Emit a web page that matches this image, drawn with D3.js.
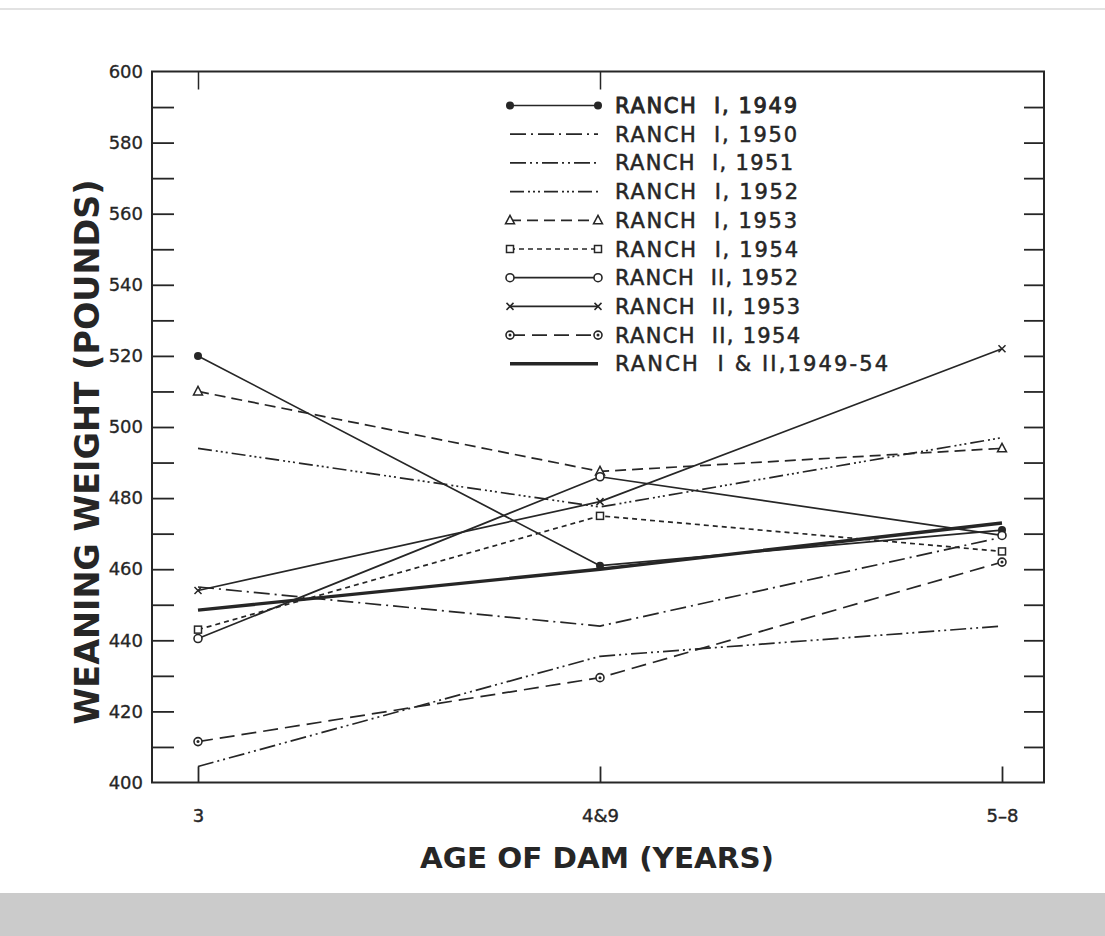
<!DOCTYPE html>
<html>
<head>
<meta charset="utf-8">
<script src="https://cdn.jsdelivr.net/npm/d3@7"></script>
<style>
  html, body { margin: 0; padding: 0; background: #ffffff; }
  svg { display: block; }
  text { fill: #262626; }
</style>
</head>
<body>
<svg id="chart" width="1105" height="936"></svg>
<script>
// ---------------- data ----------------
const ageGroups = ["3", "4&9", "5–8"];
const yTicks = [400, 410, 420, 430, 440, 450, 460, 470, 480, 490, 500, 510, 520, 530, 540, 550, 560, 570, 580, 590, 600];

const ranchI_1949 = [520, 461, 471];
const ranchI_1950 = [455, 444, 469];
const ranchI_1951 = [404.5, 435.5, 444];
const ranchI_1952 = [494, 477.5, 497];
const ranchI_1953 = [510, 487.5, 494];
const ranchI_1954 = [443, 475, 465];
const ranchII_1952 = [440.5, 486, 469.5];
const ranchII_1953 = [454, 479, 522];
const ranchII_1954 = [411.5, 429.5, 462];
const ranchI_II_1949_54 = [448.5, 460, 473];

const seriesLabels = [
  "RANCH  I, 1949", "RANCH  I, 1950", "RANCH  I, 1951", "RANCH  I, 1952",
  "RANCH  I, 1953", "RANCH  I, 1954", "RANCH  II, 1952", "RANCH  II, 1953",
  "RANCH  II, 1954", "RANCH  I & II,1949-54"
];
const labelWidths = [182, 182, 178, 183, 182, 183, 183, 185, 185, 273];

// ---------------- styles ----------------
const ink = "#262626";
const styles = [
  { values: ranchI_1949, dash: null, width: 1.7, marker: "dot" },
  { values: ranchI_1950, dash: "16,5,2,5", width: 1.7, marker: null },
  { values: ranchI_1951, dash: "16,4,2,4,2,4", width: 1.7, marker: null },
  { values: ranchI_1952, dash: "14,4,2,3,2,3,2,4", width: 1.7, marker: null },
  { values: ranchI_1953, dash: "11,6", width: 1.7, marker: "triangle" },
  { values: ranchI_1954, dash: "5,4", width: 1.7, marker: "square" },
  { values: ranchII_1952, dash: null, width: 1.7, marker: "circle" },
  { values: ranchII_1953, dash: null, width: 1.7, marker: "x" },
  { values: ranchII_1954, dash: "15,7", width: 1.7, marker: "circledot" },
  { values: ranchI_II_1949_54, dash: null, width: 3.4, marker: null }
];

const svg = d3.select("#chart");

// paper background: grey strip at the bottom
svg.append("rect").attr("x", 0).attr("y", 893).attr("width", 1105).attr("height", 43).attr("fill", "#cbcbcb");
svg.append("line").attr("x1", 0).attr("x2", 1105).attr("y1", 9).attr("y2", 9)
  .attr("stroke", "#d8d8d8").attr("stroke-width", 1.5);

// ---------------- scales ----------------
const plotLeft = 152, plotRight = 1044, plotTop = 71.5, plotBottom = 782.5;
const x = d3.scalePoint().domain(ageGroups).range([198, 1002]).padding(0);
const y = d3.scaleLinear().domain([400, 600]).range([plotBottom, plotTop]);

// frame
svg.append("rect").attr("x", plotLeft).attr("y", plotTop).attr("width", plotRight - plotLeft).attr("height", plotBottom - plotTop)
  .attr("fill", "none").attr("stroke", ink).attr("stroke-width", 2);

// left axis with labels
const fmtY = d => (d % 20 === 0 ? d : "");
const gL = svg.append("g").attr("transform", `translate(${plotLeft},0)`)
  .call(d3.axisLeft(y).tickValues(yTicks.filter(d => d > 400 && d < 600)).tickSize(-22).tickPadding(9).tickFormat(fmtY));
gL.select(".domain").remove();
gL.selectAll(".tick line").attr("stroke", ink).attr("stroke-width", 1.8);
const gL2 = svg.append("g").attr("transform", `translate(${plotLeft},0)`)
  .call(d3.axisLeft(y).tickValues([400, 600]).tickSize(0).tickPadding(9).tickFormat(d => d));
gL2.select(".domain").remove();
svg.selectAll("g text").attr("font-family", "DejaVu Sans, sans-serif").attr("font-size", 18)
  .attr("fill", ink).attr("stroke", ink).attr("stroke-width", 0.3);

// right axis (ticks only)
const gR = svg.append("g").attr("transform", `translate(${plotRight},0)`)
  .call(d3.axisRight(y).tickValues(yTicks.filter(d => d > 400 && d < 600)).tickSize(-20).tickFormat(""));
gR.select(".domain").remove();
gR.selectAll(".tick line").attr("stroke", ink).attr("stroke-width", 1.8);

// bottom axis
const gB = svg.append("g").attr("transform", `translate(0,${plotBottom})`)
  .call(d3.axisBottom(x).tickSize(-16).tickPadding(27));
gB.select(".domain").remove();
gB.selectAll(".tick line").attr("stroke", ink).attr("stroke-width", 1.8);
gB.selectAll("text").attr("font-family", "DejaVu Sans, sans-serif").attr("font-size", 18)
  .attr("fill", ink).attr("stroke", ink).attr("stroke-width", 0.4);

// top axis (ticks only)
const gT = svg.append("g").attr("transform", `translate(0,${plotTop})`)
  .call(d3.axisTop(x).tickValues(["3", "4&9"]).tickSize(-18).tickFormat(""));
gT.select(".domain").remove();
gT.selectAll(".tick line").attr("stroke", ink).attr("stroke-width", 1.5);

// axis titles
svg.append("text")
  .attr("x", 597).attr("y", 868).attr("text-anchor", "middle")
  .attr("font-family", "Liberation Sans Narrow, DejaVu Sans Condensed, sans-serif")
  .attr("font-size", 29).attr("font-weight", "bold").attr("fill", ink)
  .attr("textLength", 354).attr("lengthAdjust", "spacingAndGlyphs")
  .text("AGE OF DAM (YEARS)");

svg.append("text")
  .attr("transform", "translate(99,452) rotate(-90)")
  .attr("text-anchor", "middle")
  .attr("font-family", "Liberation Sans Narrow, DejaVu Sans Condensed, sans-serif")
  .attr("font-size", 33).attr("font-weight", "bold").attr("fill", ink)
  .attr("textLength", 545).attr("lengthAdjust", "spacingAndGlyphs")
  .text("WEANING WEIGHT (POUNDS)");

// ---------------- markers ----------------
function drawMarker(g, type, cx, cy) {
  if (!type) return;
  if (type === "dot") {
    g.append("circle").attr("cx", cx).attr("cy", cy).attr("r", 4).attr("fill", ink);
  } else if (type === "circle") {
    g.append("circle").attr("cx", cx).attr("cy", cy).attr("r", 4).attr("fill", "#fff").attr("stroke", ink).attr("stroke-width", 1.6);
  } else if (type === "circledot") {
    g.append("circle").attr("cx", cx).attr("cy", cy).attr("r", 4).attr("fill", "#fff").attr("stroke", ink).attr("stroke-width", 1.6);
    g.append("circle").attr("cx", cx).attr("cy", cy).attr("r", 1.5).attr("fill", ink);
  } else if (type === "square") {
    g.append("rect").attr("x", cx - 3.5).attr("y", cy - 3.5).attr("width", 7).attr("height", 7)
      .attr("fill", "#fff").attr("stroke", ink).attr("stroke-width", 1.5);
  } else if (type === "triangle") {
    g.append("path").attr("d", `M${cx},${cy - 5}L${cx + 4.5},${cy + 3.5}L${cx - 4.5},${cy + 3.5}Z`)
      .attr("fill", "#fff").attr("stroke", ink).attr("stroke-width", 1.5);
  } else if (type === "x") {
    g.append("path").attr("d", `M${cx - 3.5},${cy - 3.5}L${cx + 3.5},${cy + 3.5}M${cx + 3.5},${cy - 3.5}L${cx - 3.5},${cy + 3.5}`)
      .attr("stroke", ink).attr("stroke-width", 1.5);
  }
}

// ---------------- lines ----------------
const line = d3.line().x((d, i) => x(ageGroups[i])).y(d => y(d));
const plot = svg.append("g");
styles.forEach(s => {
  plot.append("path").datum(s.values).attr("d", line)
    .attr("fill", "none").attr("stroke", ink).attr("stroke-width", s.width)
    .attr("stroke-dasharray", s.dash).attr("stroke-linejoin", "round");
});
styles.forEach(s => {
  s.values.forEach((v, i) => drawMarker(plot, s.marker, x(ageGroups[i]), y(v)));
});

// ---------------- legend ----------------
const legendX1 = 510, legendX2 = 598, legendY0 = 105.5, legendStep = 28.7;
const lg = svg.append("g");
styles.forEach((s, i) => {
  const ly = legendY0 + i * legendStep;
  lg.append("line").attr("x1", legendX1).attr("x2", legendX2).attr("y1", ly).attr("y2", ly)
    .attr("stroke", ink).attr("stroke-width", s.width).attr("stroke-dasharray", s.dash);
  drawMarker(lg, s.marker, legendX1, ly);
  drawMarker(lg, s.marker, legendX2, ly);
  lg.append("text").attr("x", 615).attr("y", ly).attr("dy", "0.36em")
    .attr("font-family", "DejaVu Sans, sans-serif").attr("font-size", 21)
    .attr("stroke", ink).attr("stroke-width", i === 0 ? 0.9 : 0.5)
    .attr("textLength", labelWidths[i]).attr("lengthAdjust", "spacing")
    .style("white-space", "pre").attr("fill", ink)
    .text(seriesLabels[i]);
});
</script>
</body>
</html>
